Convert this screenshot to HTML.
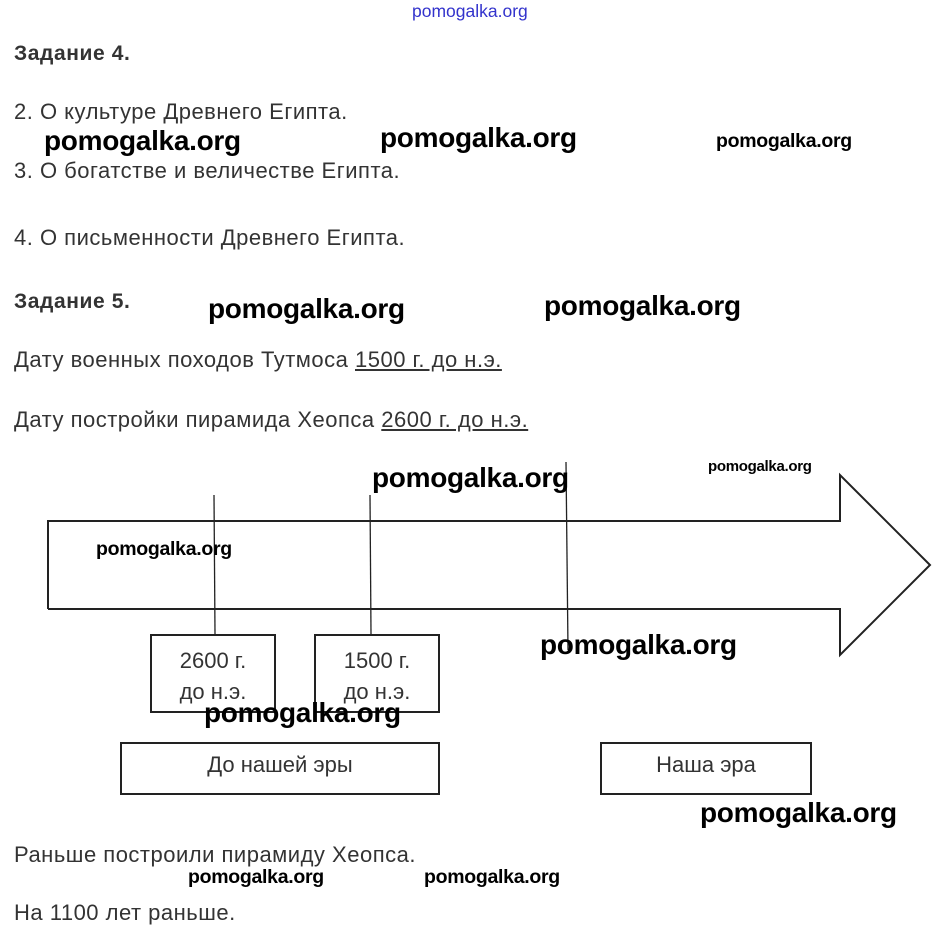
<!DOCTYPE html>
<html><head><meta charset="utf-8"><style>
body{margin:0;width:940px;height:936px;background:#fff;position:relative;overflow:hidden;font-family:"Liberation Sans",sans-serif;color:#333}
.t{position:absolute;font-size:22px;letter-spacing:0.5px;white-space:nowrap;line-height:1}
.b{font-weight:bold;font-size:21px;letter-spacing:0.6px}
.w{position:absolute;font-weight:bold;color:#000;white-space:nowrap;line-height:1;letter-spacing:-0.3px}
.L{font-size:28px}.S{font-size:19.5px}
.box{position:absolute;border:2px solid #222;box-sizing:border-box;text-align:center;font-size:22px;color:#333}
u{text-decoration:underline}
</style></head><body>
<div class="t" style="left:412px;top:3px;font-size:17.5px;letter-spacing:0;color:#33c">pomogalka.org</div>
<div class="t b" style="left:14px;top:43px">Задание 4.</div>
<div class="t" style="left:14px;top:101px">2. О культуре Древнего Египта.</div>
<div class="t" style="left:14px;top:160px">3. О богатстве и величестве Египта.</div>
<div class="t" style="left:14px;top:227px">4. О письменности Древнего Египта.</div>
<div class="t b" style="left:14px;top:291px">Задание 5.</div>
<div class="t" style="left:14px;top:349px">Дату военных походов Тутмоса <u>1500 г. до н.э.</u></div>
<div class="t" style="left:14px;top:409px">Дату постройки пирамида Хеопса <u>2600 г. до н.э.</u></div>
<div class="t" style="left:14px;top:844px">Раньше построили пирамиду Хеопса.</div>
<div class="t" style="left:14px;top:902px">На 1100 лет раньше.</div>

<svg style="position:absolute;left:0;top:0" width="940" height="936">
<g fill="none" stroke="#222" stroke-width="2">
<polyline points="48,609 48,521 840,521 840,475 930,565 840,655 840,609 48,609" fill="#fff"/>
</g>
<g stroke="#222" stroke-width="1.3">
<line x1="214" y1="495" x2="215" y2="634"/>
<line x1="370" y1="495" x2="371" y2="634"/>
<line x1="566" y1="462" x2="568" y2="650"/>
</g>
</svg>
<div class="box" style="left:150px;top:634px;width:126px;height:79px;padding-top:9px;line-height:31px">2600 г.<br>до н.э.</div>
<div class="box" style="left:314px;top:634px;width:126px;height:79px;padding-top:9px;line-height:31px">1500 г.<br>до н.э.</div>
<div class="box" style="left:120px;top:742px;width:320px;height:53px;line-height:42px">До нашей эры</div>
<div class="box" style="left:600px;top:742px;width:212px;height:53px;line-height:42px">Наша эра</div>

<div class="w L" style="left:44px;top:127px">pomogalka.org</div>
<div class="w L" style="left:380px;top:124px">pomogalka.org</div>
<div class="w S" style="left:716px;top:132px">pomogalka.org</div>
<div class="w L" style="left:208px;top:295px">pomogalka.org</div>
<div class="w L" style="left:544px;top:292px">pomogalka.org</div>
<div class="w L" style="left:372px;top:464px">pomogalka.org</div>
<div class="w S" style="left:708px;top:459px;font-size:15px">pomogalka.org</div>
<div class="w S" style="left:96px;top:540px">pomogalka.org</div>
<div class="w L" style="left:540px;top:631px">pomogalka.org</div>
<div class="w L" style="left:204px;top:699px">pomogalka.org</div>
<div class="w L" style="left:700px;top:799px">pomogalka.org</div>
<div class="w S" style="left:188px;top:868px">pomogalka.org</div>
<div class="w S" style="left:424px;top:868px">pomogalka.org</div>
</body></html>
